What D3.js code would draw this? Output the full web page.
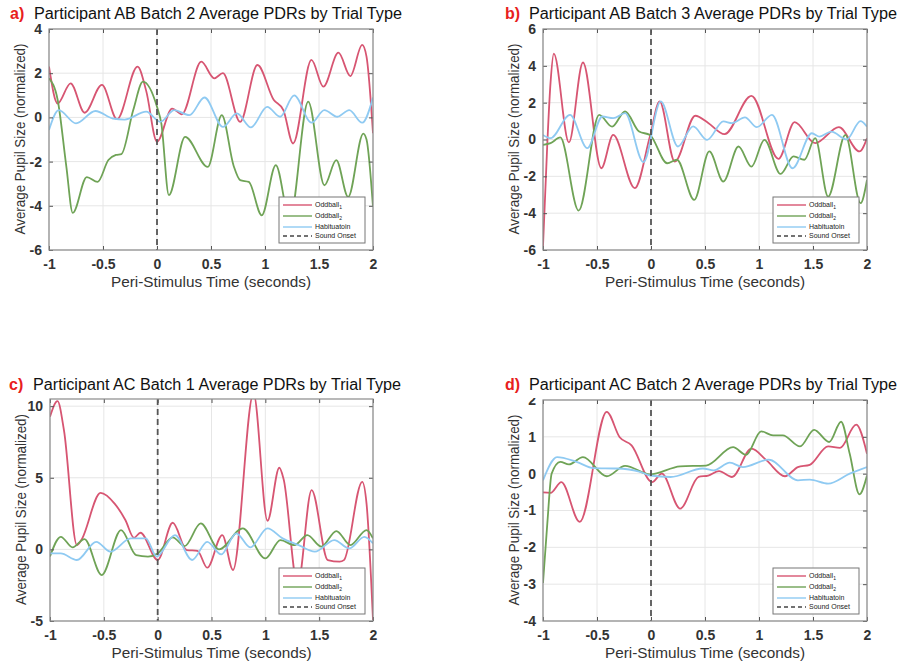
<!DOCTYPE html>
<html>
<head>
<meta charset="utf-8">
<script src="https://cdn.jsdelivr.net/npm/d3@7"></script>
<style>
  body { margin: 0; background: #fff; }
  text { font-family: "Liberation Sans", Arial, Helvetica, sans-serif; }
</style>
</head>
<body>
<svg id="chart" width="899" height="662"></svg>
<script>
// ---- data ----
const xTicks = [-1, -0.5, 0, 0.5, 1, 1.5, 2];
const seriesNames = ["Oddball", "Oddball", "Habituatoin", "Sound Onset"];
const seriesSubs = ["1", "2", "", ""];

const titles = [
  "Participant AB Batch 2 Average PDRs by Trial Type",
  "Participant AB Batch 3 Average PDRs by Trial Type",
  "Participant AC Batch 1 Average PDRs by Trial Type",
  "Participant AC Batch 2 Average PDRs by Trial Type"
];
const letters = ["a)", "b)", "c)", "d)"];

const yDomainA = [-6, 4], yTicksA = [-6, -4, -2, 0, 2, 4];
const yDomainB = [-6, 6], yTicksB = [-6, -4, -2, 0, 2, 4, 6];
const yDomainC = [-5, 10.5], yTicksC = [-5, 0, 5, 10];
const yDomainD = [-4, 2], yTicksD = [-4, -3, -2, -1, 0, 1, 2];

const aOddball1 = [[-1,2.3],[-0.92,0.63],[-0.8,1.54],[-0.67,0.21],[-0.51,1.47],[-0.37,-0.08],[-0.18,2.3],[-0.1,1.2],[0,-1.1],[0.14,0.4],[0.23,0.14],[0.41,2.52],[0.53,1.77],[0.61,2.0],[0.77,-0.2],[0.93,2.37],[1.08,0.8],[1.17,0.33],[1.26,-1.18],[1.43,2.6],[1.54,1.39],[1.68,2.93],[1.79,1.87],[1.9,3.28],[1.94,2.75],[2,-0.72]];
const aOddball2 = [[-1,1.77],[-0.92,0.8],[-0.84,-2.2],[-0.78,-4.32],[-0.65,-2.7],[-0.55,-2.92],[-0.45,-1.93],[-0.38,-1.7],[-0.33,-1.66],[-0.22,0.33],[-0.13,1.62],[0,0.48],[0.04,-0.27],[0.11,-3.52],[0.26,-0.88],[0.47,-2.24],[0.6,0.1],[0.71,-2.2],[0.77,-2.84],[0.85,-2.92],[0.97,-4.43],[1.1,-2.16],[1.23,-4.6],[1.4,0.71],[1.55,-3.07],[1.66,-1.93],[1.77,-3.6],[1.91,-0.73],[1.94,-1.0],[2,-4.05]];
const aHabituation = [[-1,-0.57],[-0.91,0.33],[-0.75,-0.27],[-0.57,0.29],[-0.41,-0.05],[-0.3,-0.1],[-0.1,0.26],[0.03,-0.2],[0.16,0.33],[0.3,0.1],[0.44,0.9],[0.61,-0.43],[0.74,0.18],[0.87,-0.45],[1.02,0.48],[1.14,0.03],[1.27,1.0],[1.43,-0.24],[1.55,0.33],[1.67,0.03],[1.78,0.33],[1.9,-0.24],[2,0.9]];

const bOddball1 = [[-1,-5.8],[-0.96,-0.2],[-0.93,3.1],[-0.9,4.66],[-0.76,-0.16],[-0.63,4.18],[-0.46,-1.56],[-0.35,0.25],[-0.15,-2.64],[-0.01,0.16],[0.08,2.07],[0.22,-1.2],[0.41,1.29],[0.53,0.9],[0.68,0.29],[0.93,2.37],[1.18,-1.05],[1.33,0.94],[1.52,-0.2],[1.74,0.67],[1.93,-0.65],[2,0.07]];
const bOddball2 = [[-1,-0.29],[-0.93,-0.2],[-0.84,0.11],[-0.67,-3.86],[-0.48,1.34],[-0.36,0.7],[-0.24,1.52],[-0.11,0.43],[-0.01,0.25],[0.15,-1.29],[0.24,-1.1],[0.4,-3.28],[0.54,-0.65],[0.67,-2.28],[0.81,-0.38],[0.93,-1.47],[1.05,-0.02],[1.2,-1.87],[1.32,-0.92],[1.42,-1.1],[1.52,0.07],[1.64,-3.1],[1.8,0.25],[1.94,-3.46],[2,-2.19]];
const bHabituation = [[-1,0.25],[-0.93,0.07],[-0.75,1.34],[-0.59,-0.47],[-0.45,1.25],[-0.35,1.16],[-0.24,1.43],[-0.07,-1.23],[0.09,2.07],[0.25,-0.38],[0.39,0.71],[0.52,-0.02],[0.67,0.98],[0.75,0.89],[0.87,1.2],[0.98,0.67],[1.12,1.34],[1.31,-1.56],[1.49,0.34],[1.56,0.16],[1.67,0.43],[1.81,0],[1.94,1.0],[2,0.7]];

const cOddball1 = [[-1,9.26],[-0.93,10.35],[-0.87,8.3],[-0.75,0.3],[-0.71,0.65],[-0.53,3.95],[-0.4,3.2],[-0.3,2.05],[-0.22,0.81],[-0.16,1.16],[0,-0.74],[0.14,1.86],[0.27,-0.05],[0.37,-0.1],[0.46,-1.28],[0.6,1.0],[0.7,-1.44],[0.89,10.9],[1.02,2.0],[1.13,5.7],[1.17,4.9],[1.3,-2.5],[1.43,4.14],[1.58,-0.75],[1.69,-0.86],[1.73,-0.75],[1.9,4.72],[1.94,3.2],[2,-4.93]];
const cOddball2 = [[-1,-0.5],[-0.9,0.88],[-0.79,0.14],[-0.68,0.72],[-0.52,-1.79],[-0.34,1.35],[-0.2,-0.4],[-0.09,-0.5],[0,-0.28],[0.14,0.84],[0.25,0.23],[0.4,1.81],[0.57,0],[0.79,1.47],[1.0,-0.63],[1.14,0.65],[1.27,0.3],[1.39,1.0],[1.52,0.19],[1.66,1.28],[1.79,0.3],[1.94,1.35],[2,0.77]];
const cHabituation = [[-1,-0.28],[-0.9,-0.28],[-0.75,-0.74],[-0.57,0.53],[-0.44,-0.16],[-0.25,0.77],[-0.11,0.77],[-0.01,-0.5],[0.16,1.0],[0.32,-0.74],[0.46,0.53],[0.59,-0.35],[0.73,1.12],[0.86,0.14],[1.02,1.47],[1.16,0.77],[1.31,0.3],[1.46,-0.16],[1.64,0.65],[1.78,0.07],[1.92,0.88],[2,0.42]];

const dOddball1 = [[-1,-0.51],[-0.93,-0.52],[-0.83,-0.23],[-0.66,-1.31],[-0.41,1.68],[-0.29,0.99],[-0.18,0.77],[0.01,-0.23],[0.1,0.0],[0.27,-0.95],[0.44,-0.09],[0.53,-0.05],[0.63,0.07],[0.75,-0.09],[0.93,0.68],[1.07,0.36],[1.24,-0.07],[1.36,0.18],[1.47,0.24],[1.64,0.74],[1.75,0.7],[1.9,1.33],[2,0.54]];
const dOddball2 = [[-1,-2.97],[-0.96,-1.35],[-0.92,0],[-0.84,0.32],[-0.76,0.25],[-0.63,0.45],[-0.41,-0.07],[-0.24,0.21],[-0.01,-0.02],[0.27,0.2],[0.51,0.22],[0.76,0.72],[0.88,0.51],[1.02,1.15],[1.13,1.04],[1.22,1.04],[1.38,0.74],[1.51,1.19],[1.65,0.86],[1.76,1.41],[1.84,0.54],[1.93,-0.56],[2,-0.05]];
const dHabituation = [[-1,-0.18],[-0.87,0.45],[-0.69,0.32],[-0.53,0.15],[-0.32,0.14],[-0.1,0.05],[-0.01,-0.05],[0.18,-0.09],[0.48,0.14],[0.58,0.09],[0.73,0.3],[0.85,0.18],[1.09,0.38],[1.36,-0.18],[1.47,-0.16],[1.64,-0.27],[1.84,0.0],[2,0.18]];

// ---- styles ----
const colors = ["#d75572", "#6fa356", "#8fcaf2"];
const onsetColor = "#555";
const gridColor = "#e6e6e6";
const boxColor = "#8a8a8a";
const labelColor = "#333";

const svg = d3.select("#chart");

const panels = [
  { i: 0, left: 49,  top: 29,  width: 324, height: 221, yDomain: yDomainA, yTicks: yTicksA, series: [aOddball1, aOddball2, aHabituation], titleX: 10,  titleY: 19 },
  { i: 1, left: 543, top: 29,  width: 324, height: 221, yDomain: yDomainB, yTicks: yTicksB, series: [bOddball1, bOddball2, bHabituation], titleX: 505, titleY: 19 },
  { i: 2, left: 50,  top: 399, width: 323, height: 222, yDomain: yDomainC, yTicks: yTicksC, series: [cOddball1, cOddball2, cHabituation], titleX: 9,   titleY: 390 },
  { i: 3, left: 543, top: 400, width: 324, height: 221, yDomain: yDomainD, yTicks: yTicksD, series: [dOddball1, dOddball2, dHabituation], titleX: 505, titleY: 390 }
];

panels.forEach(drawPanel);

function drawPanel(p) {
  const g = svg.append("g").attr("transform", `translate(${p.left},${p.top})`);
  const w = p.width, h = p.height;

  const x = d3.scaleLinear().domain([-1, 2]).range([0, w]);
  const y = d3.scaleLinear().domain(p.yDomain).range([h, 0]);

  // title (the source figure is stretched sideways, hence textLength)
  svg.append("text")
      .attr("x", p.titleX)
      .attr("y", p.titleY)
      .style("font-size", "16px")
      .style("fill", "#e8201c")
      .style("font-weight", "bold")
      .text(letters[p.i]);
  svg.append("text")
      .attr("x", p.titleX + 24)
      .attr("y", p.titleY)
      .attr("textLength", 368)
      .attr("lengthAdjust", "spacingAndGlyphs")
      .style("font-size", "16px")
      .style("fill", "#111")
      .text(titles[p.i]);

  // grid
  g.append("g").selectAll("line")
      .data(xTicks)
    .enter().append("line")
      .attr("x1", d => x(d)).attr("x2", d => x(d))
      .attr("y1", 0).attr("y2", h)
      .style("stroke", gridColor);
  g.append("g").selectAll("line")
      .data(p.yTicks)
    .enter().append("line")
      .attr("x1", 0).attr("x2", w)
      .attr("y1", d => y(d)).attr("y2", d => y(d))
      .style("stroke", gridColor);

  // clip for lines
  const clipId = `clip${p.i}`;
  g.append("clipPath").attr("id", clipId)
    .append("rect").attr("width", w).attr("height", h);

  const line = d3.line()
      .x(d => x(d[0]))
      .y(d => y(d[1]))
      .curve(d3.curveMonotoneX);

  const lines = g.append("g").attr("clip-path", `url(#${clipId})`);
  p.series.forEach((s, k) => {
    lines.append("path")
        .datum(s)
        .attr("d", line)
        .style("fill", "none")
        .style("stroke", colors[k])
        .style("stroke-width", 1.8);
  });

  // sound onset
  lines.append("line")
      .attr("x1", x(0)).attr("x2", x(0))
      .attr("y1", 0).attr("y2", h)
      .style("stroke", onsetColor)
      .style("stroke-width", 1.8)
      .style("stroke-dasharray", "6,4");

  // axes: MATLAB-like box with inward ticks on all sides
  const tickFont = g => g.selectAll("text")
      .style("font-size", "14px")
      .style("font-weight", "bold")
      .style("fill", labelColor);

  g.append("g")
      .attr("transform", `translate(0,${h})`)
      .call(d3.axisBottom(x).tickValues(xTicks).tickSize(-4).tickPadding(9).tickFormat(d => String(d)))
      .call(tickFont);
  g.append("g")
      .call(d3.axisTop(x).tickValues(xTicks).tickSize(-4).tickFormat(""));

  const yAxisG = g.append("g")
      .call(d3.axisLeft(y).tickValues(p.yTicks).tickSize(-4).tickPadding(7).tickFormat(d => String(d)))
      .call(tickFont);
  g.append("g")
      .attr("transform", `translate(${w},0)`)
      .call(d3.axisRight(y).tickValues(p.yTicks).tickSize(-4).tickFormat(""));

  // the top label of panel d is cut in the source
  if (p.i === 3) {
    g.append("clipPath").attr("id", "clipYLab")
      .append("rect").attr("x", -40).attr("y", -2).attr("width", 40).attr("height", h + 10);
    yAxisG.attr("clip-path", "url(#clipYLab)");
  }

  g.selectAll(".domain").remove();
  g.selectAll(".tick line").style("stroke", "#555");

  g.append("rect")
      .attr("width", w).attr("height", h)
      .style("fill", "none")
      .style("stroke", boxColor)
      .style("stroke-width", 1.2);

  // axis labels
  g.append("text")
      .attr("x", w / 2 - 100)
      .attr("y", h + 37)
      .attr("textLength", 200)
      .attr("lengthAdjust", "spacingAndGlyphs")
      .style("font-size", "14.5px")
      .style("fill", labelColor)
      .text("Peri-Stimulus Time (seconds)");

  g.append("text")
      .attr("transform", "rotate(-90)")
      .attr("x", -h / 2 - 95)
      .attr("y", -24)
      .attr("textLength", 191)
      .attr("lengthAdjust", "spacingAndGlyphs")
      .style("font-size", "14.5px")
      .style("fill", labelColor)
      .text("Average Pupil Size (normalized)");

  // legend
  const lg = g.append("g").attr("transform", `translate(${w - 94},${h - 53})`);
  lg.append("rect")
      .attr("width", 86).attr("height", 46)
      .style("fill", "#fff")
      .style("stroke", "#777")
      .style("stroke-width", 1);
  const rowY = [8, 19, 30, 39];
  seriesNames.forEach((name, k) => {
    lg.append("line")
        .attr("x1", 4).attr("x2", 33)
        .attr("y1", rowY[k]).attr("y2", rowY[k])
        .style("stroke", k < 3 ? colors[k] : "#444")
        .style("stroke-width", 1.4)
        .style("stroke-dasharray", k < 3 ? null : "4,3");
    const t = lg.append("text")
        .attr("x", 36)
        .attr("y", rowY[k] + 2.3)
        .style("font-size", "7px")
        .style("fill", "#222")
        .text(name);
    if (seriesSubs[k]) {
      t.append("tspan")
          .attr("dy", 2)
          .style("font-size", "5px")
          .text(seriesSubs[k]);
    }
  });
}
</script>
</body>
</html>
